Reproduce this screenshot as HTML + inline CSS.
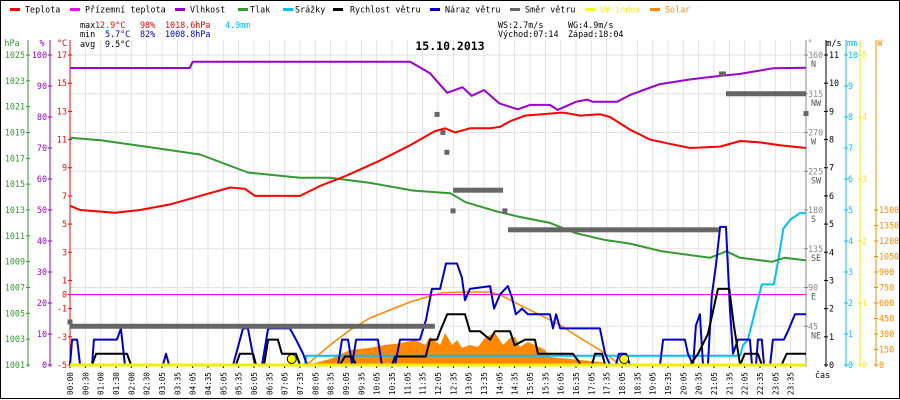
<!DOCTYPE html>
<html><head><meta charset="utf-8"><style>
html,body{margin:0;padding:0;background:#fff}
svg{display:block}
text{font-family:"DejaVu Sans Mono","Liberation Mono",monospace;font-size:8.4px}
</style></head><body>
<svg id="c" width="900" height="400" viewBox="0 0 900 400" xmlns="http://www.w3.org/2000/svg">
<rect x="0.5" y="0.5" width="899" height="398" fill="#fff" stroke="#000"/>
<g id="grid"></g>
<g id="legend"></g>
<g>
<text x="80" y="28" fill="#000">max</text>
<text x="95" y="28" fill="#f00">12.9°C</text>
<text x="140" y="28" fill="#f00">98%</text>
<text x="165" y="28" fill="#f00">1018.6hPa</text>
<text x="225" y="28" fill="#00bfff">4.9mm</text>
<text x="80" y="37" fill="#000">min</text>
<text x="105" y="37" fill="#00c">5.7°C</text>
<text x="140" y="37" fill="#00c">82%</text>
<text x="165" y="37" fill="#00c">1008.8hPa</text>
<text x="80" y="47" fill="#000">avg</text>
<text x="105" y="47" fill="#000">9.5°C</text>
<text x="498" y="28" fill="#000">WS:2.7m/s</text>
<text x="568" y="28" fill="#000">WG:4.9m/s</text>
<text x="498" y="37" fill="#000">Východ:07:14</text>
<text x="568" y="37" fill="#000">Západ:18:04</text>
<text x="450" y="50" fill="#000" text-anchor="middle" style="font-size:11.5px;font-weight:bold">15.10.2013</text>
</g>
<g id="axes"></g>
<g id="series"></g>
</svg>
<script>
// ---- data (time in hours) ----
const tempT=[0,0.33,1.47,2.28,3.26,4.24,5.22,5.71,6.03,7.5,8.15,8.97,10.1,11.09,11.9,12.23,12.55,13.04,13.7,14.02,14.35,14.84,15.98,16.14,16.63,17.28,17.61,18.26,18.91,19.56,20.22,21.2,21.85,22.5,23.15,24];
const tempV=[6.3,6.0,5.8,6.0,6.4,7.0,7.6,7.5,7.0,7.0,7.7,8.4,9.5,10.6,11.6,11.8,11.5,11.8,11.8,11.9,12.3,12.7,12.9,12.9,12.7,12.8,12.6,11.7,11.0,10.7,10.4,10.5,10.9,10.8,10.6,10.4];
const humT=[0,3.9,4.0,11.09,11.74,12.3,12.8,13.1,13.5,14.0,14.6,15.0,15.65,15.9,16.5,16.86,17.05,17.84,18.26,18.7,19.24,20.2,20.87,21.85,22.92,24];
const humV=[95.8,95.8,97.8,97.8,94.1,87.8,89.6,86.8,88.7,84.4,82.5,83.9,83.9,82.3,84.9,85.6,84.9,84.9,87.1,88.7,90.6,92.1,92.9,93.9,95.7,95.9];
const presT=[0,1.0,2.5,4.24,5.8,7.5,8.48,9.78,11.2,12.4,12.9,13.9,14.6,15.65,16.5,17.4,18.26,19.3,20.87,21.4,21.85,22.9,23.3,24];
const presV=[1018.6,1018.4,1017.9,1017.3,1015.9,1015.5,1015.5,1015.1,1014.5,1014.3,1013.6,1012.9,1012.5,1012.0,1011.2,1010.7,1010.4,1009.8,1009.3,1009.8,1009.3,1009.0,1009.3,1009.1];
const rainT=[7.66,7.7,21.85,21.95,22.1,22.43,22.56,22.95,23.1,23.26,23.5,23.8,24];
const rainV=[0,0.3,0.3,0.65,0.8,2.1,2.6,2.6,3.4,4.4,4.7,4.9,4.9];
const speedT=[0,0.72,0.85,1.86,1.99,5.41,5.54,5.97,6.07,6.33,6.46,6.78,6.91,7.37,7.5,8.8,8.96,9.2,9.33,10.5,10.6,11.6,11.74,11.97,12.07,12.3,12.88,13.04,13.37,13.7,13.86,14.35,14.5,14.84,15.16,15.26,16.3,16.4,16.67,17.02,17.12,17.35,17.45,20.22,20.48,20.8,21.13,21.5,21.65,21.85,22.0,22.43,22.56,23.2,23.37,24];
const speedV=[0,0,0.4,0.4,0,0,0.4,0.4,0,0,0.9,0.9,0.4,0.4,0,0,0.3,0.3,0,0,0.3,0.3,0.9,0.9,1.2,1.8,1.8,1.2,1.2,0.9,1.2,1.2,0.7,0.9,0.9,0.4,0.4,0.4,0,0,0.4,0.4,0,0,0.4,1.1,2.7,2.7,1.4,0,0.4,0.4,0,0,0.4,0.4];
const gustT=[0,0.07,0.23,0.33,0.72,0.78,1.53,1.66,1.79,3.03,3.13,3.23,5.32,5.64,5.80,6.03,6.26,6.46,7.17,7.37,7.60,7.73,8.74,8.87,9.07,9.20,9.33,10.04,10.17,10.60,10.76,11.41,11.61,11.80,12.07,12.26,12.62,12.78,12.88,13.04,13.70,13.83,14.02,14.28,14.41,14.54,14.74,14.93,15.65,15.75,15.85,15.98,17.28,17.45,17.61,17.80,17.90,18.13,18.26,19.24,19.34,20.05,20.15,20.32,20.41,20.54,20.64,20.80,20.93,21.06,21.2,21.39,21.52,21.62,21.78,22.17,22.24,22.37,22.43,22.56,22.63,22.83,22.92,23.28,23.41,23.64,24];
const gustV=[0,0.9,0.9,0,0,0.9,0.9,1.3,0,0,0.4,0,0,1.3,1.3,0,0,1.3,1.3,0.9,0.4,0,0,0.9,0.9,0,0.9,0.9,0,0,0.9,0.9,1.6,2.7,2.7,3.6,3.6,3.1,2.3,2.7,2.8,2.0,2.5,2.8,2.4,1.8,2.0,1.8,1.8,1.3,1.8,1.3,1.3,0.4,0,0,0.4,0.4,0,0,0.9,0.9,0.4,0,1.4,1.8,0,0,2.5,3.5,4.9,4.9,2.0,0.4,0.9,0.9,0,0,0.9,0.9,0,0,0.9,0.9,1.2,1.8,1.8];
const solarCurveT=[7.66,7.83,8.48,9.13,9.78,10.43,11.09,11.74,12.16,12.88,13.7,14.02,14.67,15.33,15.98,16.63,17.28,17.61,17.93];
const solarCurveV=[0,30,194,339,455,532,610,668,700,706,706,680,580,484,387,261,145,77,0];
const solarT=[7.66,8.0,8.5,9.13,9.78,10.27,10.76,11.25,11.58,11.74,12.07,12.23,12.46,12.62,12.78,13.04,13.3,13.53,13.7,13.86,14.12,14.35,14.51,14.67,14.93,15.16,15.49,15.65,15.98,16.63,17.28,17.77];
const solarV=[0,20,60,145,165,194,210,242,194,271,194,310,194,242,165,194,174,261,290,310,194,261,271,174,223,194,145,77,68,48,30,0];
const dirSegT0=[0,12.49,14.28,21.16,21.39];
const dirSegT1=[11.9,14.12,21.16,21.39,24];
const dirSegV=[45,203,157,338,315];
const dirDotT=[0,11.97,12.16,12.29,12.49,14.18,24];
const dirDotV=[50,291,270,247,179,179,292];
const sunT=[7.23,18.07];
const apparentTemp=0;
const tempTicks=[17,15,13,11,9,7,5,3,1,0,-1,-3,-5];
const humTicks=[100,90,80,70,60,50,40,30,20,10,0];
const presTicks=[1025,1023,1021,1019,1017,1015,1013,1011,1009,1007,1005,1003,1001];
const dirTicks=[360,315,270,225,180,135,90,45];
const dirNames=["N","NW","W","SW","S","SE","E","NE"];
const msTicks=[0,1,2,3,4,5,6,7,8,9,10,11];
const mmTicks=[0,1,2,3,4,5,6,7,8,9,10];
const uvTicks=[0,1,2,3,4,5];
const wTicks=[0,150,300,450,600,750,900,1050,1200,1350,1500];

// ---- scales ----
const X0=70,X1=806,Y0=365,YT=55;
const X=t=>X0+t/24*(X1-X0);
const yTemp=v=>Y0-(v+5)/22*(Y0-YT);
const yHum=v=>Y0-v/100*(Y0-YT);
const yPres=v=>Y0-(v-1001)/24*(Y0-YT);
const yDir=v=>Y0-v/360*(Y0-YT);
const yMs=v=>Y0-v/11*(Y0-YT);
const yMm=v=>Y0-v/10*(Y0-YT);
const yUv=v=>Y0-v/5*(Y0-YT);
const yW=v=>Y0-v/1500*(Y0-210);
const NS="http://www.w3.org/2000/svg";
function mk(parent,tag,attrs,txt){const e=document.createElementNS(NS,tag);for(const k in attrs)e.setAttribute(k,attrs[k]);if(txt!==undefined)e.textContent=txt;parent.appendChild(e);return e;}
const grid=document.getElementById('grid'),axes=document.getElementById('axes'),ser=document.getElementById('series'),leg=document.getElementById('legend');

// grid
for(let i=0;i<48;i++){
  const x=X0+i*(X1-X0)/48;
  const g=mk(grid,'line',{x1:x,x2:x,y1:40,y2:Y0,stroke:'#e6e0e0'});
  
  
  const tk=mk(axes,'line',{x1:x,x2:x,y1:Y0,y2:Y0+3,stroke:'#000'});
  
  
  const h=Math.floor(i/2);const m=i<6?(i%2?'30':'00'):(i%2?'35':'05');
  const lab=(h<10?'0':'')+h+':'+m;
  const tx=mk(axes,'text',{x:0,y:0,transform:`translate(${x+3},395) rotate(-90)`,fill:'#000',style:'font-size:7.6px'},lab);
  
  
}
dirTicks.forEach(d=>{
  const y=yDir(d);
  const g=mk(grid,'line',{x1:X0,x2:X1,y1:y,y2:y,stroke:'#e6e0e0'});
  
  
});

// legend: [label, color, swatchX, textX]
const legItems=[["Teplota","#f00",10,25],["Přízemní teplota","#f0f",70,85],["Vlhkost","#90c",175,190],["Tlak","#393",238,250],["Srážky","#00bfff",283,295],["Rychlost větru","#000",333,350],["Náraz větru","#00c",430,445],["Směr větru","#666",510,525],["UV index","#ff0",585,600],["Solar","#f80",650,665]];
legItems.forEach(it=>{
  const l=mk(leg,'rect',{x:it[2],y:8,width:10,height:3,fill:it[1]});
  
  
  const t=mk(leg,'text',{x:it[3],y:12.5,fill:it[1]==='#ff0'?'#ee0':(it[1]==='#f80'?'#f80':'#000')},it[0]);
  
  
});

// axes
function axis(x,color,ticks,yf,labX,anchor,unit,unitX,name){
  const a=mk(axes,'line',{x1:x,x2:x,y1:40,y2:Y0+2,stroke:color});
  
  
  const u=mk(axes,'text',{x:unitX,y:46,fill:color,'text-anchor':'middle'},unit);
  
  
  ticks.forEach(v=>{
    const y=yf(v);
    const tk=mk(axes,'line',{x1:x-2,x2:x+2,y1:y,y2:y,stroke:color});
    
    
    const t=mk(axes,'text',{x:labX,y:y+3,fill:color,'text-anchor':anchor},String(v));
    
    
  });
}
axis(28,'#393',presTicks,yPres,25,'end','hPa',12,'pressure');
axis(50,'#90c',humTicks,yHum,47,'end','%',42,'humidity');
axis(70,'#f00',tempTicks,yTemp,67,'end','°C',62,'temperature');
axis(806,'#888',dirTicks,yDir,808,'start','°',810,'direction');
dirTicks.forEach((d,i)=>{
  const t=mk(axes,'text',{x:811,y:yDir(d)+12,fill:'#555'},dirNames[i]);
  
  
});
axis(826,'#000',msTicks,yMs,829,'start','m/s',834,'wind-speed');
axis(846,'#00bfff',mmTicks,yMm,848,'start','mm',852,'rain');
axis(860,'#ee0',uvTicks,yUv,862,'start','',866,'uv');
axis(876,'#f80',wTicks,yW,879,'start','W',880,'solar');
const cas=mk(axes,'text',{x:815,y:378,fill:'#000'},'čas');



// series
function line(T,V,yf,color,w,name){
  const pts=T.map((t,i)=>X(t).toFixed(1)+','+yf(V[i]).toFixed(1)).join(' ');
  const p=mk(ser,'polyline',{points:pts,fill:'none',stroke:color,'stroke-width':w,'stroke-linejoin':'round'});
  
  
}
{
  let pts=X(solarT[0])+','+Y0+' '+solarT.map((t,i)=>X(t).toFixed(1)+','+yW(solarV[i]).toFixed(1)).join(' ')+' '+X(solarT[solarT.length-1])+','+Y0;
  const p=mk(ser,'polygon',{points:pts,fill:'#f80'});
  
  
}
line(solarCurveT,solarCurveV,yW,'#f80',1.5,'solar-theoretical-line');
{
  const y=yTemp(apparentTemp);
  const p=mk(ser,'line',{x1:X0,x2:X1,y1:y,y2:y,stroke:'#f0f','stroke-width':1.2});
  
  
}
line(rainT,rainV,yMm,'#00bfff',2,'rain-line');
line(presT,presV,yPres,'#393',2,'pressure-line');
line(humT,humV,yHum,'#90c',2,'humidity-line');
line(tempT,tempV,yTemp,'#f00',2,'temperature-line');
line(gustT,gustV,yMs,'#00c',2,'gust-line');
line(speedT,speedV,yMs,'#000',2,'speed-line');
{
  const p=mk(ser,'line',{x1:X0,x2:X1,y1:Y0,y2:Y0,stroke:'#ee0','stroke-width':3});
  
  
}
dirSegV.forEach((v,i)=>{
  const y=yDir(v);
  const p=mk(ser,'rect',{x:X(dirSegT0[i]),y:y-2.5,width:X(dirSegT1[i])-X(dirSegT0[i]),height:5,fill:'#666'});
  
  
});
dirDotV.forEach((v,i)=>{
  const p=mk(ser,'rect',{x:X(dirDotT[i])-2.5,y:yDir(v)-2.5,width:5,height:5,fill:'#666'});
  
  
});
sunT.forEach(t=>{
  const c=mk(ser,'circle',{cx:X(t),cy:Y0-6,r:4.5,fill:'#ff0',stroke:'#000','stroke-width':1});
  
  
});
</script>
</body></html>
